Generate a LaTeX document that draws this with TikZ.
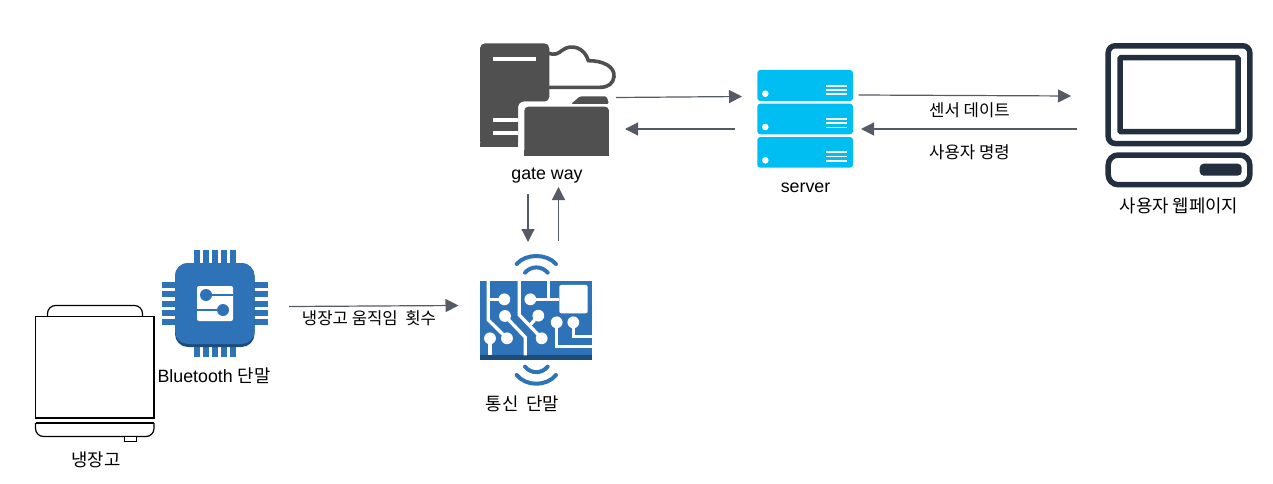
\documentclass[tikz,border=0pt]{standalone}
\usepackage{fontspec}
\setmainfont{Liberation Sans}
\newfontfamily\kr{Noto Sans CJK KR}
\usetikzlibrary{arrows.meta}
\definecolor{arrowgray}{HTML}{545B64}
\definecolor{chipblue}{HTML}{2E73B8}
\definecolor{chipdark}{HTML}{1D4C78}
\definecolor{gatewaygray}{HTML}{505050}
\definecolor{serverblue}{HTML}{00BEF2}
\definecolor{webnavy}{HTML}{232F3E}
\tikzset{
  flow/.style={draw=arrowgray, line width=1.2pt, -{Triangle[length=13pt,width=13pt]}},
  caption/.style={inner sep=0pt, font=\fontsize{17.8}{20}\selectfont, text=black},
  smallcaption/.style={inner sep=0pt, font=\fontsize{16.7}{18}\selectfont, text=black},
  track/.style={draw=white, line width=3.3pt},
  pad/.style={fill=white, draw=none},
  wave/.style={draw=chipblue, line width=4pt, line cap=round},
  pin/.style={fill=chipblue, draw=none},
  rack/.style={fill=serverblue, draw=none, rounded corners=3pt},
  vent/.style={draw=white, line width=1.7pt},
  screen/.style={draw=webnavy, line width=5.5pt}
}
\begin{document}
\begin{tikzpicture}[x=1pt,y=-1pt]
  \useasboundingbox (0,0) rectangle (1273,484);

  % Fridge
  \draw[line width=1.2pt, rounded corners=8pt] (47.5,316) -- (47.5,305.5) -- (142.5,305.5) -- (142.5,316);
  \draw[line width=1.2pt, fill=white] (35.5,316.5) rectangle (154,418);
  \draw[line width=1.8pt] (35.5,418) -- (154,418);
  \draw[line width=1.2pt, rounded corners=8pt] (35.5,423) -- (35.5,436.5) -- (154,436.5) -- (154,423);
  \draw[line width=1.2pt] (35.5,423) -- (154,423);
  \draw[line width=1pt, fill=white] (124.5,436.5) rectangle (136.5,441);
  \node[caption] (fridge) at (96,460) {\kr 냉장고};

  % Bluetooth chip
  \foreach \px in {194,203,212,221,230}
    \fill[pin] (\px,250) rectangle ++(6,107);
  \foreach \py in {282,291,300.5,310,319}
    \fill[pin] (162,\py) rectangle ++(106,6);
  \fill[chipdark, rounded corners=13pt] (175,263) rectangle (254.5,347);
  \fill[chipblue, rounded corners=13pt] (175,263) rectangle (254.5,344);
  \fill[white, rounded corners=2pt] (197,286) rectangle (233,321);
  \draw[chipblue, line width=1.8pt] (206,295) -- (233,295);
  \draw[chipblue, line width=1.8pt] (197,310) -- (223,310);
  \fill[chipblue] (206,295) circle (6pt);
  \fill[chipblue] (223,310) circle (6pt);
  \node[caption] (bluetooth) at (214,376) {Bluetooth {\kr 단말}};

  % Communication board (3x zoom units)
  \begin{scope}[shift={(476,250)}, x=0.3333pt, y=-0.3333pt]
    \fill[chipblue] (13,92) rectangle (348,330);
    \fill[chipdark] (13,316) rectangle (348,330);
    \fill[pad, rounded corners=2pt] (250,105) rectangle (335,190);
    \draw[track] (37,92) -- (37,210) -- (93,265);
    \draw[track] (37,148) -- (85,148);
    \draw[track] (42,265) -- (42,316);
    \draw[track] (87,198) -- (148,262) -- (148,316);
    \draw[track] (130,92) -- (130,195) -- (197,265);
    \draw[track] (187,197) -- (160,228);
    \draw[track] (163,148) -- (250,148);
    \draw[track] (218,92) -- (218,148);
    \draw[track] (242,217) -- (242,290) -- (348,290);
    \draw[track] (292,217) -- (292,260) -- (348,260);
    \foreach \cx/\cy in {93/265,85/148,42/265,87/198,197/265,187/197,163/148,242/217,292/217}
      \fill[pad] (\cx,\cy) circle (5.9pt);
    \draw[wave] (122,42) .. controls (150,10) and (212,10) .. (240,42);
    \draw[wave] (147,68) .. controls (165,47) and (197,47) .. (215,68);
    \draw[wave] (147,350) .. controls (165,372) and (197,372) .. (215,350);
    \draw[wave] (122,375) .. controls (150,410) and (212,410) .. (240,375);
  \end{scope}
  \node[caption] (board) at (522.5,404) {\kr 통신\hspace{4pt} 단말};

  % Gateway (3x zoom units)
  \begin{scope}[shift={(460,30)}, x=0.3333pt, y=-0.3333pt]
    \draw[gatewaygray, line width=3.6pt] (262,68) .. controls (285,78) and (295,70) .. (305,62)
      .. controls (335,38) and (375,55) .. (385,92)
      .. controls (430,92) and (465,110) .. (462,140)
      .. controls (460,160) and (445,172) .. (420,172) -- (262,172);
    \fill[gatewaygray, rounded corners=5pt] (60,350) -- (60,40) -- (268,40) -- (268,215)
      -- (175,215) -- (175,350) -- cycle;
    \fill[white, rounded corners=6pt] (175,350) -- (175,215) -- (268,215) -- (268,228) -- (193,228) -- (193,350) -- cycle;
    \fill[gatewaygray] (60,340) rectangle (175,350);
    \fill[white] (100,80) rectangle (228,93);
    \fill[white] (100,263) rectangle (175,275);
    \fill[white] (100,303) rectangle (175,315);
    \fill[gatewaygray, rounded corners=4pt] (193,377) -- (193,230) -- (447,230) -- (447,377) -- cycle;
    \fill[gatewaygray] (193,360) rectangle (447,377);
    \fill[gatewaygray, rounded corners=1.5pt] (333,222) -- (360,199) -- (440,199) -- (447,222) -- cycle;
  \end{scope}
  \node[caption] (gateway) at (547,176) {gate way};

  % Server
  \fill[rack] (757.3,70) rectangle (853,101);
  \fill[rack] (757.3,103.7) rectangle (853,134.3);
  \fill[rack] (757.3,137) rectangle (853,167.7);
  \foreach \ry in {93.7,127,160.3}
    \fill[white] (765.3,\ry) circle (3.3pt);
  \foreach \ry in {90,123.3,156.6}
    \foreach \dy in {-4.3,0,4.3}
      \draw[vent] (826,\ry+\dy) -- (847.3,\ry+\dy);
  \node[caption] (server) at (805.5,188) {server};

  % Web page terminal
  \draw[screen, rounded corners=7pt] (1108.2,45.8) rectangle (1249.8,143.5);
  \draw[screen, rounded corners=1pt] (1120,57.7) rectangle (1238,131.7);
  \draw[screen, rounded corners=10pt] (1108.2,155) rectangle (1249.8,184.7);
  \fill[webnavy, rounded corners=4pt] (1199.7,163.7) rectangle (1241.7,175.7);
  \node[caption] (webpage) at (1179,206) {\kr 사용자 웹페이지};

  % Connector ends
  \coordinate (chipOut) at (289,306.5);
  \coordinate (boardIn) at (458.5,305.5);
  \coordinate (gateDown) at (528,194);
  \coordinate (boardTop) at (528,242);
  \coordinate (boardUp) at (558.5,241);
  \coordinate (gateUp) at (558.5,187);
  \coordinate (gateOut) at (616,97.5);
  \coordinate (serverIn) at (742,96.5);
  \coordinate (serverBack) at (735,129);
  \coordinate (gateIn) at (625,129);
  \coordinate (serverOut) at (858.5,95);
  \coordinate (webIn) at (1071,96);
  \coordinate (webOut) at (1077,129);
  \coordinate (serverReturn) at (861,129);

  % Connectors
  \draw[flow] (chipOut) -- (boardIn);
  \draw[flow] (gateDown) -- (boardTop);
  \draw[flow] (boardUp) -- (gateUp);
  \draw[flow] (gateOut) -- (serverIn);
  \draw[flow] (serverBack) -- (gateIn);
  \draw[flow] (serverOut) -- (webIn);
  \draw[flow] (webOut) -- (serverReturn);

  % Connector labels
  \node[smallcaption] (moves) at (369,318) {\kr 냉장고 움직임\ \ 횟수};
  \node[smallcaption] (sensor) at (969.5,110) {\kr 센서 데이트};
  \node[smallcaption] (command) at (969.5,152) {\kr 사용자 명령};
\end{tikzpicture}
\end{document}
